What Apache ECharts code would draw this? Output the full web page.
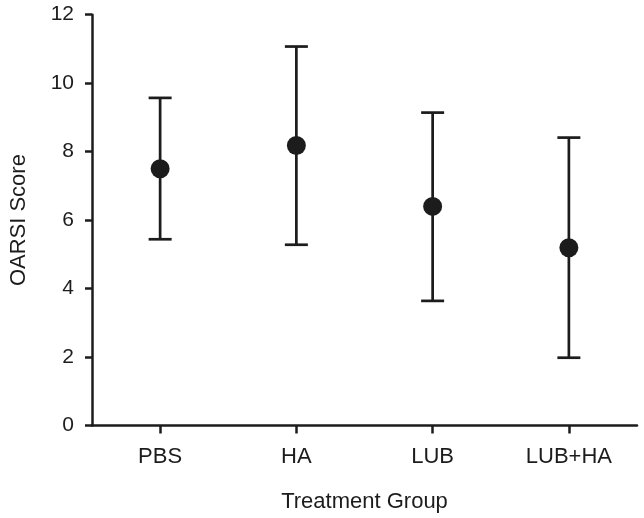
<!DOCTYPE html>
<html>
<head>
<meta charset="utf-8">
<script src="https://cdn.jsdelivr.net/npm/echarts@6/dist/echarts.min.js"></script>
<style>
html,body{margin:0;padding:0;background:#fff;}
#chart{width:644px;height:518px;}
</style>
</head>
<body>
<div id="chart"></div>
<script>
var categories = ['PBS', 'HA', 'LUB', 'LUB+HA'];
var meanValues = [7.50, 8.18, 6.40, 5.19];
var lowerValues = [5.44, 5.28, 3.64, 1.98];
var upperValues = [9.57, 11.07, 9.14, 8.41];
var yTicks = [0, 2, 4, 6, 8, 10, 12];

var ink = '#1c1c1c';
var font = '"Liberation Sans", Arial, sans-serif';

var errData = categories.map(function (c, i) { return [i, lowerValues[i], upperValues[i]]; });

var chart = echarts.init(document.getElementById('chart'), null, {renderer: 'canvas'});
chart.setOption({
  backgroundColor: '#ffffff',
  animation: false,
  grid: {left: 87.5, right: 7, top: 14.7, bottom: 92.5, containLabel: false},
  xAxis: {
    type: 'category',
    data: categories,
    name: 'Treatment Group',
    nameLocation: 'middle',
    nameGap: 65,
    nameTextStyle: {fontFamily: font, fontSize: 22, color: ink},
    axisLine: {show: true, lineStyle: {color: ink, width: 2.5}},
    axisTick: {show: true, alignWithLabel: true, length: 8, lineStyle: {color: ink, width: 2.5}},
    axisLabel: {fontFamily: font, fontSize: 22, color: ink, margin: 20},
    splitLine: {show: false}
  },
  yAxis: {
    type: 'value',
    min: yTicks[0],
    max: yTicks[yTicks.length - 1],
    interval: 2,
    name: 'OARSI Score',
    nameLocation: 'middle',
    nameGap: 62,
    nameRotate: 90,
    nameTextStyle: {fontFamily: font, fontSize: 22, color: ink},
    axisLine: {show: true, lineStyle: {color: ink, width: 2.5}},
    axisTick: {show: true, length: 7, lineStyle: {color: ink, width: 2.5}},
    axisLabel: {fontFamily: font, fontSize: 21, color: ink, margin: 18},
    splitLine: {show: false}
  },
  series: [
    {
      type: 'custom',
      data: errData,
      z: 2,
      renderItem: function (params, api) {
        var x = api.value(0);
        var lo = api.coord([x, api.value(1)]);
        var hi = api.coord([x, api.value(2)]);
        var hw = 11.5;
        var st = {stroke: ink, lineWidth: 2.7, fill: null};
        return {
          type: 'group',
          children: [
            {type: 'line', shape: {x1: lo[0], y1: lo[1], x2: hi[0], y2: hi[1]}, style: st},
            {type: 'line', shape: {x1: lo[0] - hw, y1: lo[1], x2: lo[0] + hw, y2: lo[1]}, style: st},
            {type: 'line', shape: {x1: hi[0] - hw, y1: hi[1], x2: hi[0] + hw, y2: hi[1]}, style: st}
          ]
        };
      }
    },
    {
      type: 'scatter',
      data: meanValues,
      symbol: 'circle',
      symbolSize: 19,
      z: 3,
      itemStyle: {color: ink, opacity: 1}
    }
  ]
});
</script>
</body>
</html>
